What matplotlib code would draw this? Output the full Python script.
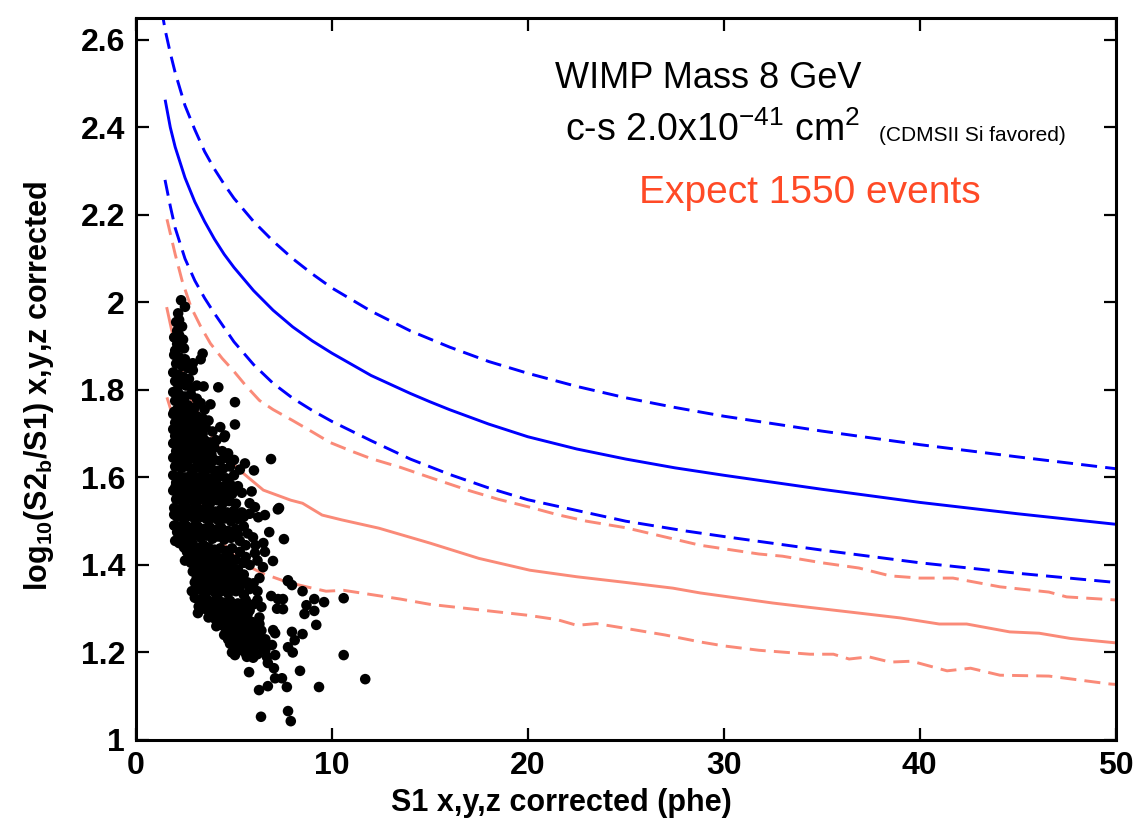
import matplotlib
matplotlib.use('Agg')
import matplotlib.pyplot as plt
import numpy as np

# expected band curves (x in phe, y = log10(S2b/S1))
blue_up_x = [1.3, 1.5, 1.75, 2.0, 2.5, 3.0, 3.5, 4.0, 4.5, 5.0, 6, 7, 8, 9, 10, 12, 14, 16, 18, 20,
             22.5, 25, 27.5, 30, 35, 40, 45, 50]
blue_up_y = [2.67, 2.62, 2.57, 2.525, 2.45, 2.395, 2.345, 2.305, 2.27, 2.238, 2.185, 2.14, 2.1, 2.065, 2.033,
             1.98, 1.935, 1.898, 1.865, 1.838, 1.808, 1.782, 1.76, 1.74, 1.706, 1.675, 1.647, 1.62]

blue_mid_x = [1.5, 1.75, 2.0, 2.5, 3.0, 3.5, 4.0, 4.5, 5.0, 6, 7, 8, 9, 10, 12, 14, 15, 16, 18, 20,
              22.5, 25, 27.5, 30, 35, 40, 45, 50]
blue_mid_y = [2.46, 2.40, 2.355, 2.285, 2.23, 2.185, 2.145, 2.11, 2.08, 2.027, 1.982, 1.944, 1.912, 1.884,
              1.833, 1.792, 1.773, 1.755, 1.722, 1.693, 1.665, 1.642, 1.622, 1.605, 1.573, 1.543, 1.517,
              1.493]

blue_lo_x = [1.48, 1.75, 2.0, 2.5, 3.0, 3.5, 4.0, 5.0, 6, 7, 8, 9, 10, 12, 14, 16, 18, 20,
             25, 28, 30, 35, 40, 45, 50]
blue_lo_y = [2.28, 2.22, 2.17, 2.10, 2.05, 2.01, 1.975, 1.91, 1.858, 1.815, 1.781, 1.753, 1.728,
             1.684, 1.642, 1.607, 1.576, 1.549, 1.50, 1.478, 1.465, 1.434, 1.405, 1.381, 1.36]

pink_up_x = [1.58, 2.0, 2.35, 2.8, 3.3, 3.8, 4.4, 4.95, 5.6, 6.3, 7.0, 8.0, 9.0, 9.9, 11, 12, 13.5, 15,
             17, 18.5, 20.1, 21.5, 23, 25, 28.8, 31.8, 33, 35, 36.9, 38.5, 40, 41.7, 44.1, 46.6, 47.5, 50]
pink_up_y = [2.19, 2.11, 2.05, 1.99, 1.945, 1.906, 1.872, 1.845, 1.81, 1.776, 1.755, 1.73, 1.704, 1.68,
             1.66, 1.643, 1.623, 1.60, 1.57, 1.55, 1.532, 1.515, 1.50, 1.485, 1.445, 1.425, 1.42, 1.405,
             1.393, 1.375, 1.37, 1.37, 1.35, 1.338, 1.327, 1.32]

pink_mid_x = [1.58, 1.9, 2.3, 2.8, 3.2, 3.6, 4.3, 5.3, 6.5, 7.9, 8.5, 9.5, 10.5, 12.4, 15, 17.5, 20.1,
              22.5, 25, 27.4, 28.8, 32.5, 34, 36.9, 39, 41, 42.4, 44.6, 46.1, 47.7, 50]
pink_mid_y = [1.986, 1.92, 1.85, 1.78, 1.745, 1.715, 1.662, 1.616, 1.571, 1.548, 1.541, 1.514, 1.503,
              1.484, 1.45, 1.415, 1.388, 1.373, 1.36, 1.347, 1.336, 1.313, 1.305, 1.29, 1.279, 1.265,
              1.265, 1.247, 1.244, 1.232, 1.222]

pink_lo_x = [1.58, 1.9, 2.5, 3.2, 4.0, 4.8, 5.6, 6.5, 7.7, 8.7, 9.7, 10.6, 13.5, 15, 18, 20, 21.5, 22.5,
             23.5, 25, 27, 28.8, 30, 31.8, 34.4, 35.6, 36.4, 37.4, 38.5, 39.6, 41.4, 42.6, 44.1, 46.6,
             49.7, 50]
pink_lo_y = [1.783, 1.737, 1.65, 1.56, 1.48, 1.43, 1.40, 1.38, 1.361, 1.35, 1.34, 1.342, 1.322, 1.31,
             1.295, 1.285, 1.275, 1.262, 1.266, 1.255, 1.24, 1.224, 1.215, 1.205, 1.196, 1.196, 1.185,
             1.19, 1.178, 1.18, 1.158, 1.164, 1.148, 1.146, 1.128, 1.127]

# events (S1, log10(S2b/S1))
events = [
    (2.3, 2.005), (2.5, 1.99), (2.15, 1.975), (2.2, 1.96), (2.05, 1.955), (2.35, 1.945), (2.1, 1.935),
    (1.95, 1.92), (2.2, 1.925), (2.4, 1.915), (2.1, 1.905), (2.3, 1.9), (2.0, 1.89), (2.45, 1.895),
    (3.4, 1.883), (3.3, 1.87), (2.9, 1.861), (1.95, 1.88), (2.2, 1.875), (2.5, 1.87), (2.05, 1.86),
    (2.35, 1.855), (2.65, 1.85), (2.9, 1.845),
    (1.9, 1.84), (2.15, 1.835), (2.4, 1.83), (2.7, 1.825), (2.0, 1.82), (2.3, 1.815), (2.55, 1.81),
    (2.85, 1.805), (2.1, 1.80), (3.45, 1.808), (4.2, 1.806), (3.1, 1.81),
    (1.9, 1.795), (2.2, 1.79), (2.5, 1.785), (2.8, 1.79), (3.1, 1.78), (2.0, 1.775), (2.35, 1.77),
    (2.65, 1.765), (3.0, 1.76), (3.3, 1.77), (3.8, 1.767), (5.05, 1.772), (2.1, 1.755), (2.45, 1.75),
    (2.8, 1.75), (3.5, 1.755), (1.95, 1.75),
    (1.9, 1.745), (2.2, 1.74), (2.5, 1.738), (2.8, 1.735), (3.1, 1.74), (3.4, 1.735), (3.7, 1.73),
    (2.0, 1.725), (2.35, 1.72), (2.65, 1.722), (2.95, 1.718), (3.25, 1.72), (3.55, 1.715), (4.3, 1.715),
    (5.05, 1.721), (1.9, 1.71), (2.2, 1.705), (2.5, 1.703), (2.8, 1.70), (3.1, 1.705), (3.4, 1.70),
    (3.9, 1.705),
    (4.5, 1.692), (4.54, 1.696), (2.0, 1.695), (2.3, 1.69), (2.6, 1.688), (2.9, 1.685), (3.2, 1.69),
    (3.5, 1.685), (3.8, 1.68), (4.1, 1.685), (1.9, 1.678), (2.2, 1.675), (2.5, 1.672), (2.8, 1.67),
    (3.1, 1.668), (3.4, 1.672), (3.7, 1.665), (4.0, 1.668), (4.4, 1.66), (2.05, 1.66), (2.35, 1.655),
    (2.65, 1.657), (2.95, 1.652), (3.25, 1.655), (3.55, 1.65), (3.85, 1.652), (4.7, 1.655),
    (1.9, 1.645), (2.2, 1.642), (2.5, 1.64), (2.8, 1.645), (3.1, 1.638), (3.4, 1.64), (3.7, 1.635),
    (4.0, 1.64), (4.3, 1.638), (4.6, 1.645), (5.0, 1.64), (5.56, 1.632), (6.89, 1.642), (6.02, 1.616),
    (2.0, 1.625), (2.35, 1.622), (2.65, 1.625), (2.95, 1.62), (3.25, 1.622), (3.55, 1.618), (3.85, 1.62),
    (4.15, 1.615), (4.45, 1.62), (4.8, 1.625), (5.3, 1.618), (1.9, 1.605), (2.2, 1.603), (2.5, 1.60),
    (2.8, 1.605), (3.1, 1.60), (3.4, 1.602), (3.7, 1.598), (4.0, 1.60), (4.3, 1.603), (4.6, 1.598),
    (5.0, 1.605),
    (2.0, 1.577), (2.3, 1.575), (2.6, 1.578), (2.9, 1.572), (3.2, 1.575), (3.5, 1.572), (3.8, 1.575),
    (4.1, 1.57), (4.4, 1.572), (4.7, 1.57), (5.0, 1.575),
    (2.05, 1.588), (2.35, 1.585), (2.65, 1.583), (2.95, 1.588), (3.25, 1.582), (3.55, 1.585), (3.85, 1.58),
    (4.15, 1.583), (4.45, 1.578), (4.8, 1.585), (5.2, 1.58), (1.9, 1.57), (2.2, 1.565), (2.5, 1.568),
    (2.8, 1.562), (3.1, 1.566), (3.4, 1.56), (3.7, 1.565), (4.0, 1.56), (4.3, 1.562), (4.6, 1.556),
    (4.9, 1.562), (5.4, 1.565), (5.9, 1.568), (2.05, 1.55), (2.35, 1.548), (2.65, 1.552), (2.95, 1.545),
    (3.25, 1.55), (3.55, 1.546),
    (3.85, 1.545), (4.15, 1.548), (4.45, 1.542), (4.75, 1.546), (5.1, 1.54), (5.8, 1.541), (6.07, 1.532),
    (7.3, 1.53), (7.24, 1.527), (1.95, 1.53), (2.25, 1.528), (2.55, 1.532), (2.85, 1.525), (3.15, 1.53),
    (3.45, 1.526), (3.75, 1.528), (4.05, 1.522), (4.35, 1.527), (4.65, 1.52), (5.0, 1.524), (5.4, 1.52),
    (6.58, 1.514), (6.24, 1.509), (5.8, 1.517), (2.1, 1.51), (2.4, 1.508), (2.7, 1.512), (3.0, 1.505),
    (3.3, 1.51), (3.6, 1.505), (3.9, 1.508), (4.2, 1.502), (4.5, 1.506), (4.85, 1.50), (5.2, 1.505),
    (1.95, 1.515), (2.25, 1.518), (2.55, 1.515), (2.85, 1.518), (3.15, 1.515), (3.45, 1.518),
    (3.75, 1.514), (4.05, 1.518), (4.35, 1.512), (4.65, 1.515), (4.95, 1.512), (5.5, 1.51),
    (1.95, 1.49), (2.25, 1.488), (2.55, 1.49), (2.85, 1.485), (3.15, 1.488), (3.45, 1.482), (3.75, 1.487),
    (4.05, 1.48), (4.35, 1.485), (4.7, 1.478), (5.1, 1.482), (5.5, 1.488), (6.8, 1.475), (7.55, 1.459),
    (5.97, 1.463), (6.5, 1.45), (2.0, 1.455), (2.4, 1.468), (2.7, 1.465), (3.0, 1.47), (3.3, 1.462),
    (3.6, 1.467), (3.9, 1.46), (4.2, 1.465), (4.5, 1.458), (4.85, 1.462), (5.3, 1.455), (2.2, 1.45),
    (2.55, 1.448), (2.85, 1.452), (3.45, 1.445),
    (2.1, 1.475), (2.4, 1.478), (2.7, 1.474), (3.0, 1.478), (3.3, 1.474), (3.6, 1.476), (3.9, 1.472),
    (4.2, 1.476), (4.5, 1.47), (4.85, 1.474), (5.2, 1.47), (5.7, 1.472),
    (2.45, 1.44), (2.75, 1.44), (5.6, 1.445), (6.1, 1.445),
    (3.1, 1.44), (3.4, 1.435), (3.7, 1.44), (4.0, 1.435), (4.3, 1.438), (4.6, 1.432), (4.9, 1.438),
    (5.3, 1.43), (6.58, 1.43), (6.07, 1.427), (2.6, 1.43), (2.9, 1.425), (3.2, 1.42), (3.5, 1.422),
    (3.8, 1.418), (4.1, 1.42), (4.4, 1.415), (4.75, 1.42), (5.1, 1.412), (5.6, 1.418), (6.99, 1.409),
    (2.5, 1.41), (2.8, 1.405), (3.05, 1.40), (3.35, 1.405), (3.65, 1.398), (3.95, 1.402), (4.25, 1.398),
    (4.55, 1.40), (4.9, 1.395), (6.48, 1.395), (5.8, 1.40),
    (2.7, 1.42), (3.0, 1.412), (3.3, 1.395), (3.6, 1.41), (3.9, 1.39), (4.2, 1.41), (4.5, 1.388),
    (4.8, 1.408), (5.2, 1.39), (5.5, 1.405), (6.2, 1.41),
    (2.9, 1.385), (3.2, 1.38), (3.5, 1.385), (3.8, 1.378), (4.1, 1.382), (4.4, 1.375), (4.7, 1.38),
    (5.0, 1.372), (5.5, 1.378), (7.76, 1.365), (7.75, 1.363), (3.0, 1.36), (3.3, 1.362), (3.6, 1.356),
    (3.9, 1.36), (4.2, 1.355), (4.5, 1.358), (4.85, 1.352), (5.2, 1.36), (6.0, 1.358), (7.96, 1.354),
    (2.85, 1.34), (3.15, 1.345), (3.45, 1.338), (3.75, 1.342), (4.05, 1.336), (4.35, 1.34), (4.7, 1.335),
    (5.1, 1.34), (5.5, 1.332),
    (3.1, 1.37), (3.4, 1.372), (3.7, 1.368), (4.0, 1.37), (4.3, 1.366), (4.6, 1.37), (4.95, 1.365),
    (5.3, 1.37), (5.7, 1.36), (6.3, 1.37),
    (3.3, 1.35), (3.6, 1.345), (3.9, 1.348), (4.2, 1.344), (4.5, 1.348), (4.8, 1.343), (5.3, 1.35),
    (5.8, 1.345), (6.2, 1.34),
    (8.5, 1.34), (6.9, 1.329), (7.25, 1.322), (7.5, 1.322), (9.1, 1.322), (9.6, 1.315), (10.6, 1.324),
    (8.7, 1.308), (3.0, 1.325), (3.3, 1.32), (3.6, 1.322), (3.9, 1.316), (4.2, 1.32), (4.5, 1.314),
    (4.8, 1.318), (5.2, 1.312), (5.6, 1.32), (6.0, 1.31), (6.4, 1.304), (7.2, 1.30), (7.5, 1.299),
    (3.2, 1.305), (3.5, 1.3), (3.8, 1.302), (4.1, 1.296), (4.4, 1.30), (4.7, 1.294), (5.0, 1.298),
    (5.4, 1.292), (5.8, 1.296),
    (3.45, 1.31), (3.75, 1.312), (4.05, 1.308), (4.35, 1.31), (4.65, 1.306), (5.0, 1.31), (5.35, 1.305),
    (5.7, 1.308), (6.2, 1.32),
    (3.16, 1.29), (8.6, 1.288), (9.1, 1.295), (9.2, 1.263), (3.7, 1.28), (4.0, 1.278), (4.3, 1.282),
    (4.6, 1.276), (4.9, 1.28), (5.2, 1.274), (5.5, 1.278), (5.9, 1.27), (4.1, 1.26), (4.4, 1.262),
    (4.7, 1.258), (5.0, 1.262), (5.3, 1.256), (5.6, 1.26), (6.0, 1.252), (4.5, 1.24), (4.8, 1.244),
    (5.1, 1.238), (5.4, 1.242), (5.7, 1.236), (6.1, 1.24), (7.0, 1.251), (7.1, 1.244), (7.96, 1.247),
    (8.5, 1.242),
    (3.9, 1.29), (4.2, 1.288), (4.5, 1.292), (4.8, 1.286), (5.1, 1.29), (5.4, 1.284), (5.7, 1.288),
    (6.3, 1.28), (4.2, 1.27), (4.5, 1.268), (4.8, 1.27), (5.1, 1.264), (5.4, 1.268), (5.8, 1.262),
    (6.3, 1.265), (4.6, 1.25), (4.9, 1.252), (5.2, 1.248), (5.5, 1.25), (5.85, 1.248), (6.4, 1.25),
    (4.7, 1.23), (5.0, 1.232), (5.3, 1.23), (5.6, 1.232), (5.9, 1.228), (6.25, 1.232), (6.6, 1.23),
    (5.0, 1.21), (5.3, 1.212), (5.7, 1.21), (6.0, 1.208), (6.5, 1.212),
    (8.1, 1.228), (6.94, 1.217), (7.76, 1.212), (8.0, 1.2), (4.8, 1.22), (5.1, 1.224), (5.4, 1.218),
    (5.7, 1.222), (6.0, 1.215), (6.3, 1.22), (4.9, 1.2), (5.25, 1.205), (5.6, 1.198), (5.9, 1.202),
    (6.2, 1.196), (6.6, 1.205),
    (5.05, 1.194), (5.66, 1.19), (5.98, 1.188), (6.68, 1.19), (7.1, 1.194), (6.73, 1.176), (10.6, 1.194),
    (5.77, 1.155), (6.28, 1.114), (6.73, 1.123), (7.1, 1.141), (7.45, 1.141), (7.7, 1.121), (6.38, 1.053),
    (7.76, 1.066), (7.9, 1.043), (9.34, 1.121), (11.7, 1.139), (8.37, 1.158), (7.04, 1.164),
]
s1_vals = [e[0] for e in events]
logr_vals = [e[1] for e in events]

x_ticks = [0, 10, 20, 30, 40, 50]
y_ticks = [1, 1.2, 1.4, 1.6, 1.8, 2, 2.2, 2.4, 2.6]
y_tick_labels = ['1', '1.2', '1.4', '1.6', '1.8', '2', '2.2', '2.4', '2.6']

blue = '#0000ff'
pink = '#fa8a78'

plt.rcParams['font.family'] = ['Liberation Sans', 'DejaVu Sans']

fig = plt.figure(figsize=(11.43, 8.19), dpi=100)
ax = fig.add_axes([0.119, 0.0965, 0.857, 0.8815])

dash = (5.5, 2.8)
ax.plot(blue_up_x, blue_up_y, color=blue, lw=2.1, dashes=dash)
ax.plot(blue_mid_x, blue_mid_y, color=blue, lw=2.1)
ax.plot(blue_lo_x, blue_lo_y, color=blue, lw=2.1, dashes=dash)
ax.plot(pink_up_x, pink_up_y, color=pink, lw=2.1, dashes=dash)
ax.plot(pink_mid_x, pink_mid_y, color=pink, lw=2.1)
ax.plot(pink_lo_x, pink_lo_y, color=pink, lw=2.1, dashes=dash)

ax.scatter(s1_vals, logr_vals, s=58, color='black', edgecolors='none', zorder=3)

ax.set_xlim(0, 50)
ax.set_ylim(1, 2.65)
ax.set_xticks(x_ticks)
ax.set_yticks(y_ticks)
ax.set_yticklabels(y_tick_labels)
ax.tick_params(direction='in', length=9, width=1.6, top=True, right=True,
               labelsize=23, pad=8)
for lbl in ax.get_xticklabels() + ax.get_yticklabels():
    lbl.set_fontweight('bold')
for sp in ax.spines.values():
    sp.set_linewidth(2.2)

ax.set_xlabel('S1 x,y,z corrected (phe)', fontsize=22, fontweight='bold')
ax.xaxis.set_label_coords(0.434, -0.066)
ax.set_ylabel(r'log$\mathregular{_{10}}$(S2$\mathregular{_b}$/S1) x,y,z corrected', fontsize=22, fontweight='bold')
ax.yaxis.set_label_coords(-0.082, 0.49)

ax.text(29.2, 2.511, 'WIMP Mass 8 GeV', fontsize=26, ha='center', va='center')
ax.text(21.9, 2.37, r'c-s 2.0x10$\mathregular{^{-41}}$ cm$\mathregular{^2}$', fontsize=27,
        ha='left', va='baseline')
ax.text(37.9, 2.37, '(CDMSII Si favored)', fontsize=15, ha='left', va='baseline')
ax.text(34.4, 2.251, 'Expect 1550 events', fontsize=28, color='#ff4a26',
        ha='center', va='center')

plt.savefig('out.png', dpi=100)
